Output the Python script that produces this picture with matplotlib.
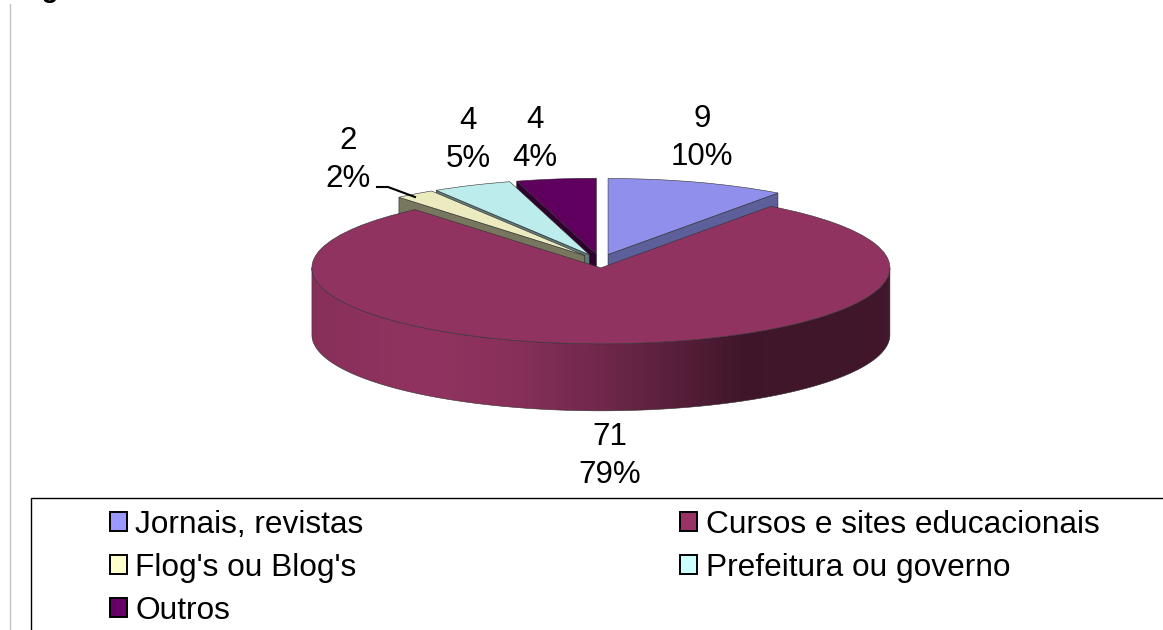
import numpy as np
import matplotlib.pyplot as plt
from matplotlib.patches import Patch, Polygon, Rectangle

plt.rcParams['font.family'] = ['Liberation Sans', 'DejaVu Sans']

categories = ['Jornais, revistas', 'Cursos e sites educacionais', "Flog's ou Blog's",
              'Prefeitura ou governo', 'Outros']
values = [9, 71, 2, 4, 4]
percents = [10, 79, 2, 5, 4]
top_colors = ['#9090ec', '#913360', '#ecebc0', '#bdecec', '#5f005f']
wall_colors = ['#5c5f99', '#6b2647', '#77775f', '#5f7777', '#30002f']
legend_colors = ['#9999ff', '#993366', '#ffffcc', '#ccffff', '#660066']

# pixels of the picture per pie radius, pie is flattened by the axes limits
W, H = 1163, 630
RX, RY = 289, 76
CX, CY = 600, 261
DEPTH = 67 / RY


def px(x, y):
	return (x - CX) / RX, (CY - y) / RY


fig = plt.figure(figsize=(W / 100, H / 100), dpi=100)
ax = fig.add_axes([0, 0, 1, 1])
wedges, _ = ax.pie(values, startangle=90, counterclock=False, explode=[0.09] * 5,
				   colors=top_colors, wedgeprops=dict(edgecolor='#303030', linewidth=0.4))
ax.set_aspect('auto')

# back to front, each top face hides the wall of the slice before it
order = [0, 4, 3, 2]
for z, i in enumerate(order):
	w = wedges[i]
	w.set_zorder(10 + z * 2 + 1)
	c = np.array(w.center)
	# only the cut face turned to the viewer
	ang = min((w.theta1, w.theta2), key=lambda a: abs(np.sin(np.radians(a))))
	edge = c + [np.cos(np.radians(ang)), np.sin(np.radians(ang))]
	pts = [c, edge, edge - [0, DEPTH], c - [0, DEPTH]]
	ax.add_patch(Polygon(pts, facecolor=wall_colors[i], edgecolor='#202020', linewidth=0.4,
						 zorder=10 + z * 2))

# outer side of the big slice, dark towards the right
w = wedges[1]
w.set_zorder(20)
c = np.array(w.center)
t = np.radians(np.linspace(180, 360, 200))
rim = np.c_[c[0] + np.cos(t), c[1] + np.sin(t)]
side = Polygon(np.r_[rim, (rim - [0, DEPTH])[::-1]], facecolor='none', edgecolor='#303030',
			   linewidth=0.4, transform=ax.transData, zorder=19)
ax.add_patch(side)
shade = np.interp(np.linspace(0, 1, 256), [0, 0.2, 0.35, 0.5, 0.65, 0.75, 1],
				  [0.58, 0.62, 0.58, 0.48, 0.36, 0.27, 0.28])
base = np.array([0x91, 0x33, 0x60]) / 255 / 0.62
grad = np.clip(shade[None, :, None] * base, 0, 1)
im = ax.imshow(grad, extent=(c[0] - 1, c[0] + 1, c[1] - 1 - DEPTH, c[1]), aspect='auto', zorder=18)
im.set_clip_path(side)
ax.set_xlim(-CX / RX, (W - CX) / RX)
ax.set_ylim((CY - H) / RY, CY / RY)

# value labels
label_pos = [(702, 138), (610, 456), (348, 160), (468, 140), (535, 139)]
for v, p, xy in zip(values, percents, label_pos):
	ax.text(*px(*xy), f'{v}\n{p}%', ha='center', va='center', fontsize=22.5, color='black',
			linespacing=1.38, zorder=30)
ax.plot(*zip(px(377, 187), px(388, 187), px(415, 197)), color='black', lw=1.5, zorder=30)

# page bits around the chart
ax.plot(*zip(px(9.5, 4), px(9.5, 630)), color='#c4c4c4', lw=1, zorder=1)
ax.text(*px(17, -3), 'Figura', fontsize=20, fontweight='bold', ha='left', va='baseline', clip_on=True)

x0, y0 = px(30.5, 498.5)
x1, y1 = px(1175, 640)
ax.add_patch(Rectangle((x0, y1), x1 - x0, y0 - y1, facecolor='white', edgecolor='black', lw=1, zorder=20))
idx = [0, 2, 4, 1, 3]
handles = [Patch(facecolor=legend_colors[i], edgecolor='black', linewidth=1.4) for i in idx]
ax.legend(handles, [categories[i] for i in idx], ncol=2, frameon=False, fontsize=22.8,
		  loc='upper left', bbox_to_anchor=(110 / W, 1 - 510 / H), handlelength=0.53, handleheight=0.53,
		  handletextpad=0.27, columnspacing=10.0, labelspacing=0.41, borderpad=0,
		  borderaxespad=0).set_zorder(31)

fig.savefig('out.png', dpi=100)
